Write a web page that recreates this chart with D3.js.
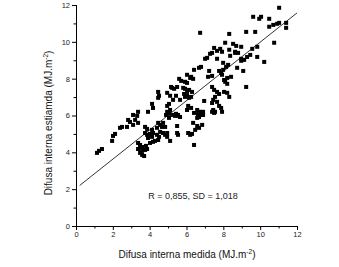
<!DOCTYPE html>
<html><head><meta charset="utf-8">
<script src="https://cdn.jsdelivr.net/npm/d3@7"></script>
<style>body{margin:0;background:#fff}svg{display:block}text{font-family:Arial,"Liberation Sans",sans-serif}</style>
</head><body>
<script>
const xTicks=[0,2,4,6,8,10,12];
const yTicks=[0,2,4,6,8,10,12];
const xMeasured=[11.03,9.62,9.95,10.05,10.49,10.71,10.49,10.92,11.03,11.41,11.41,9.24,9.73,6.74,8.32,10.76,8.10,8.53,8.70,8.97,7.50,7.83,7.93,7.66,7.39,7.28,8.32,8.64,8.80,9.57,9.84,8.37,8.64,7.12,7.01,7.66,9.84,10.22,9.29,8.97,8.97,7.99,8.26,8.15,6.79,6.68,6.41,8.75,9.08,7.23,7.77,7.88,7.99,6.03,6.25,6.36,6.20,7.17,7.39,7.93,8.04,8.21,8.42,8.10,8.21,5.60,5.71,5.92,6.03,5.16,5.33,5.49,5.22,5.82,5.92,6.03,6.14,5.87,6.03,6.25,6.14,6.30,7.39,7.50,9.24,4.46,4.51,4.46,4.95,5.11,5.27,5.43,5.65,5.92,7.66,7.77,8.04,8.21,8.32,6.96,7.55,7.45,7.66,7.39,7.77,7.88,7.45,7.55,4.13,4.18,4.95,5.05,5.11,4.95,5.05,4.89,5.27,5.43,5.38,5.54,6.09,6.25,6.03,6.58,6.74,6.85,6.90,6.63,3.91,3.37,3.32,3.10,5.05,5.54,5.65,6.41,6.63,6.85,6.90,6.68,6.58,7.39,7.50,7.93,2.83,2.93,3.21,3.37,2.77,3.10,4.46,4.57,4.73,4.67,4.84,4.40,5.49,3.86,4.13,3.75,6.36,6.58,6.68,6.47,6.85,2.50,2.39,2.12,2.01,1.96,3.75,3.86,4.02,4.13,4.18,3.91,4.40,4.51,4.46,4.29,4.18,4.02,4.57,4.73,4.84,4.95,4.95,5.11,5.49,5.54,6.09,6.20,6.30,6.41,3.37,3.48,3.48,3.37,3.59,3.75,3.86,3.59,3.48,3.70,3.59,3.80,1.14,1.25,1.41,9.46,9.13];
const yEstimated=[11.85,11.36,11.25,11.36,11.25,10.92,10.82,10.98,11.03,11.03,10.76,10.54,10.54,10.49,10.43,9.95,9.95,9.89,9.78,9.73,9.67,9.62,9.46,9.51,9.40,9.35,9.57,9.46,9.40,9.62,9.73,9.24,9.40,9.13,9.08,9.08,9.18,8.91,9.18,8.97,9.08,8.86,8.75,8.64,8.64,8.59,8.48,8.59,8.42,8.42,8.42,8.32,8.48,8.21,8.10,7.99,8.04,8.10,8.15,8.21,7.93,8.04,8.10,7.83,7.72,7.99,7.88,7.83,7.77,7.55,7.45,7.55,7.50,7.50,7.45,7.28,7.39,7.17,7.07,7.01,6.96,7.28,7.55,7.39,7.55,7.28,7.07,6.96,7.23,7.07,6.85,7.07,6.85,7.01,7.28,7.17,7.28,7.23,7.01,6.79,7.01,6.85,6.74,6.68,6.52,6.41,6.30,6.20,6.63,6.41,6.52,6.63,6.30,6.20,6.09,6.03,6.03,6.09,5.98,5.98,6.52,6.41,6.30,6.30,6.20,6.14,6.03,6.03,6.20,6.20,5.98,6.03,5.87,6.03,5.92,6.14,6.09,6.03,6.20,5.92,5.87,6.20,6.14,6.20,5.76,5.65,5.76,5.60,5.38,5.49,5.60,5.49,5.60,5.38,5.38,5.33,5.43,5.27,5.22,5.38,5.60,5.43,5.33,5.22,5.49,5.38,5.33,5.00,4.89,4.62,5.05,4.95,5.00,4.84,5.05,4.78,4.95,4.84,4.67,4.62,4.57,4.51,5.11,5.05,4.95,5.05,4.84,4.62,5.05,4.95,5.05,4.95,5.00,4.40,4.51,4.40,4.29,4.18,4.08,4.13,4.18,3.86,3.97,3.80,4.29,4.35,3.97,4.08,4.18,9.29,9.02];
const fitLine=[{x:0.2,y:2.2},{x:12.0,y:11.57}];
const statText="R = 0,855, SD = 1,018";

const W=339,H=267;
const svg=d3.select("body").append("svg").attr("width",W).attr("height",H);
const x=d3.scaleLinear().domain([0,12]).range([76,297]);
const y=d3.scaleLinear().domain([0,12]).range([226,5]);

function minor(dom){const a=[];for(let v=dom[0]+1;v<dom[1];v+=2)a.push(v);return a;}
const gx=svg.append("g").attr("transform","translate(0,226)");
gx.call(d3.axisBottom(x).tickValues(xTicks).tickSize(4).tickPadding(2).tickFormat(d3.format("d")));
gx.append("g").call(d3.axisBottom(x).tickValues(minor([0,12])).tickSize(2.5).tickFormat(""));
const gy=svg.append("g").attr("transform","translate(76,0)");
gy.call(d3.axisLeft(y).tickValues(yTicks).tickSize(4).tickPadding(2).tickFormat(d3.format("d")));
gy.append("g").call(d3.axisLeft(y).tickValues(minor([0,12])).tickSize(2.5).tickFormat(""));
svg.selectAll(".domain").attr("stroke","#000").attr("stroke-width",1);
svg.selectAll(".tick line").attr("stroke","#000");
svg.selectAll(".tick text").attr("font-size","7.5px").attr("fill","#222");
gx.select(".domain").attr("d","M76.5,0.5H297.5");
gy.select(".domain").attr("d","M0.5,5H0.5V226");

const pts=xMeasured.map((v,i)=>({x:v,y:yEstimated[i]}));
svg.append("g").selectAll("rect").data(pts).join("rect")
  .attr("x",d=>x(d.x)-2).attr("y",d=>y(d.y)-2).attr("width",4).attr("height",4).attr("fill","#000");

svg.append("path").datum(fitLine).attr("fill","none").attr("stroke","#000").attr("stroke-width",0.8)
  .attr("d",d3.line().x(d=>x(d.x)).y(d=>y(d.y)));

svg.append("text").attr("x",193).attr("y",199).attr("text-anchor","middle").attr("font-size","9px").attr("fill","#222").text(statText);

const xt=svg.append("text").attr("x",187).attr("y",258).attr("text-anchor","middle").attr("font-size","10px").attr("fill","#111");
xt.append("tspan").text("Difusa interna medida (MJ.m");
xt.append("tspan").attr("font-size","6.5px").attr("dy",-4).text("-2");
xt.append("tspan").attr("dy",4).text(")");

const yt=svg.append("text").attr("transform","translate(52,123) rotate(-90)").attr("text-anchor","middle").attr("font-size","10px").attr("fill","#111");
yt.append("tspan").text("Difusa interna estiamda (MJ.m");
yt.append("tspan").attr("font-size","6.5px").attr("dy",-4).text("-2");
yt.append("tspan").attr("dy",4).text(")");
</script>
</body></html>
